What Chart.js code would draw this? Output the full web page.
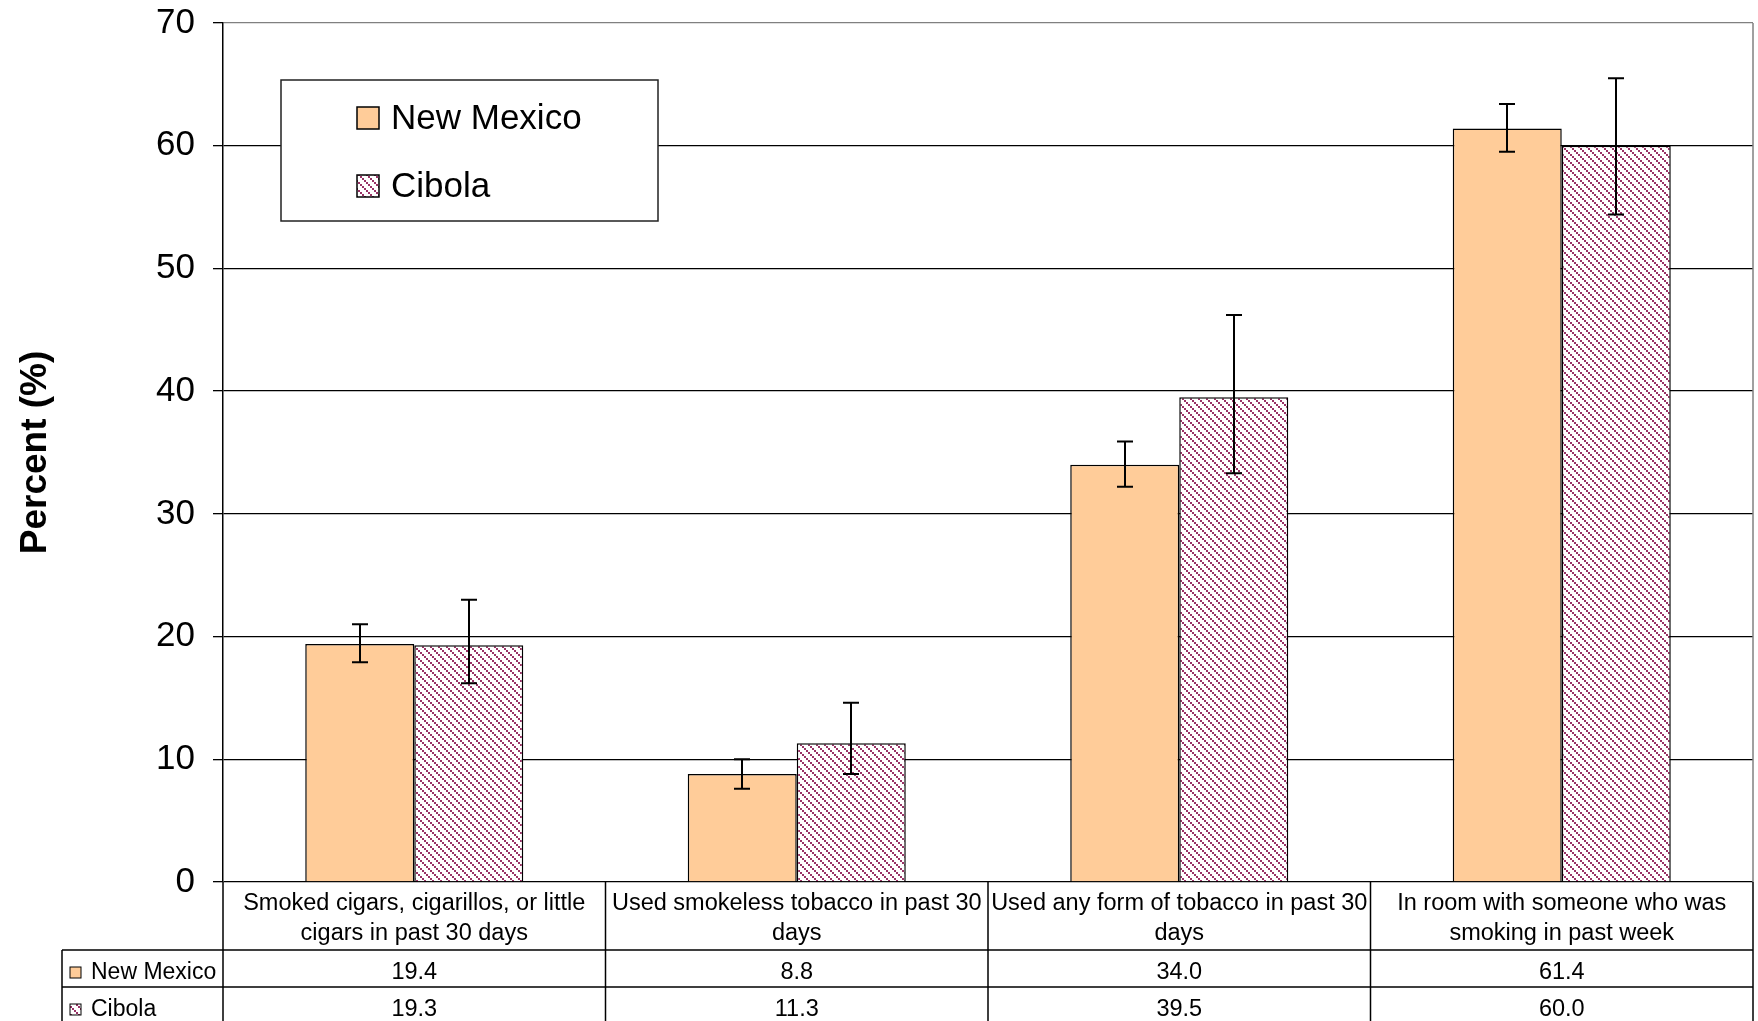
<!DOCTYPE html>
<html><head><meta charset="utf-8">
<script src="https://cdn.jsdelivr.net/npm/chart.js@4.4.0/dist/chart.umd.min.js"></script>
<style>html,body{margin:0;padding:0;background:#fff;} canvas{display:block;}</style>
</head><body>
<canvas id="c" width="1758" height="1021"></canvas>
<script>
// ---- data ----
const categories = [
  ["Smoked cigars, cigarillos, or little", "cigars in past 30 days"],
  ["Used smokeless tobacco in past 30", "days"],
  ["Used any form of tobacco in past 30", "days"],
  ["In room with someone who was", "smoking in past week"]
];
const seriesNames = ["New Mexico", "Cibola"];
const newMexico = [19.4, 8.8, 34.0, 61.4];
const cibola = [19.3, 11.3, 39.5, 60.0];
const newMexicoLow = [17.9, 7.6, 32.2, 59.5];
const newMexicoHigh = [21.0, 10.0, 35.9, 63.4];
const cibolaLow = [16.2, 8.8, 33.3, 54.4];
const cibolaHigh = [23.0, 14.6, 46.2, 65.5];
const yMin = 0, yMax = 70, yStep = 10;

// ---- styles ----
const FONT = "'Liberation Sans', Arial, sans-serif";
const nmColor = '#FFCC99';
const cibColor = '#993366';

function makeHatch() {
  const s = 8;
  const c = document.createElement('canvas');
  c.width = s; c.height = s;
  const g = c.getContext('2d');
  g.fillStyle = '#ffffff'; g.fillRect(0, 0, s, s);
  g.fillStyle = cibColor;
  for (let y = 0; y < s; y += 2) {
    g.fillRect(y, y, 2, 2);
  }
  return document.getElementById('c').getContext('2d').createPattern(c, 'repeat');
}
const hatch = makeHatch();

function fmt(v) { return v.toFixed(1); }

const errorBarPlugin = {
  id: 'errorBars',
  afterDatasetsDraw(chart) {
    const ctx = chart.ctx, y = chart.scales.y;
    const sets = [[newMexicoLow, newMexicoHigh], [cibolaLow, cibolaHigh]];
    ctx.save();
    ctx.strokeStyle = '#000'; ctx.lineWidth = 2;
    sets.forEach((s, di) => {
      const meta = chart.getDatasetMeta(di);
      meta.data.forEach((bar, i) => {
        const x = Math.round(bar.x);
        const yl = y.getPixelForValue(s[0][i]);
        const yh = y.getPixelForValue(s[1][i]);
        ctx.beginPath();
        ctx.moveTo(x, yl); ctx.lineTo(x, yh);
        ctx.moveTo(x - 8, yl); ctx.lineTo(x + 8, yl);
        ctx.moveTo(x - 8, yh); ctx.lineTo(x + 8, yh);
        ctx.stroke();
      });
    });
    ctx.restore();
  }
};

const decorPlugin = {
  id: 'decor',
  afterDraw(chart) {
    const ctx = chart.ctx, a = chart.chartArea, x = chart.scales.x;
    const fills = [nmColor, hatch];
    ctx.save();
    // right plot border (gray)
    ctx.strokeStyle = '#808080'; ctx.lineWidth = 1.5;
    ctx.beginPath(); ctx.moveTo(a.right, a.top); ctx.lineTo(a.right, a.bottom); ctx.stroke();

    // legend box inside plot
    const lx = 281, ly = 80, lw = 377, lh = 141;
    ctx.fillStyle = '#fff'; ctx.fillRect(lx, ly, lw, lh);
    ctx.strokeStyle = '#222'; ctx.lineWidth = 1.5; ctx.strokeRect(lx, ly, lw, lh);
    ctx.font = '35px ' + FONT; ctx.textBaseline = 'middle'; ctx.textAlign = 'left';
    const rowsY = [118, 186];
    seriesNames.forEach((n, i) => {
      ctx.fillStyle = fills[i]; ctx.fillRect(357, rowsY[i] - 11, 22, 22);
      ctx.strokeStyle = '#000'; ctx.lineWidth = 1.5; ctx.strokeRect(357, rowsY[i] - 11, 22, 22);
      ctx.fillStyle = '#000'; ctx.fillText(n, 391, rowsY[i] + 1);
    });

    // data table below the axis
    const n = categories.length;
    const catW = (a.right - a.left) / n;
    const headBottom = a.bottom + 68;
    const row1Bottom = headBottom + 37;
    const tableLeft = 62;
    const bottom = chart.height;
    ctx.strokeStyle = '#000'; ctx.lineWidth = 1.5;
    ctx.beginPath();
    ctx.moveTo(tableLeft, headBottom); ctx.lineTo(a.right, headBottom);
    ctx.moveTo(tableLeft, row1Bottom); ctx.lineTo(a.right, row1Bottom);
    ctx.moveTo(tableLeft, headBottom); ctx.lineTo(tableLeft, bottom);
    for (let i = 0; i <= n; i++) {
      const xx = a.left + i * catW;
      ctx.moveTo(xx, a.bottom); ctx.lineTo(xx, bottom);
    }
    ctx.stroke();
    ctx.textBaseline = 'middle';
    const rowC = [headBottom + 23, row1Bottom + 23];
    const vals = [newMexico, cibola];
    seriesNames.forEach((nm, r) => {
      ctx.fillStyle = fills[r]; ctx.fillRect(70, rowC[r] - 6, 11, 11);
      ctx.strokeStyle = '#000'; ctx.lineWidth = 1; ctx.strokeRect(70, rowC[r] - 6, 11, 11);
      ctx.fillStyle = '#000'; ctx.textAlign = 'left';
      ctx.font = '23px ' + FONT;
      ctx.fillText(nm, 91, rowC[r]);
      ctx.textAlign = 'center';
      ctx.font = '23.5px ' + FONT;
      vals[r].forEach((v, i) => ctx.fillText(fmt(v), x.getPixelForValue(i), rowC[r]));
    });
    ctx.restore();
  }
};

new Chart(document.getElementById('c'), {
  type: 'bar',
  data: {
    labels: categories,
    datasets: [
      { label: seriesNames[0], data: newMexico, backgroundColor: nmColor, borderColor: '#000', borderWidth: 1.5 },
      { label: seriesNames[1], data: cibola, backgroundColor: hatch, borderColor: '#000', borderWidth: 1.5 }
    ]
  },
  options: {
    responsive: false,
    animation: false,
    devicePixelRatio: 1,
    layout: { padding: { top: 23, right: 5, left: 0, bottom: 0 } },
    plugins: { legend: { display: false }, tooltip: { enabled: false } },
    datasets: { bar: { categoryPercentage: 0.57, barPercentage: 1.0 } },
    scales: {
      x: {
        grid: { display: false, drawTicks: false },
        border: { display: false },
        ticks: { color: '#000', font: { family: FONT, size: 23.5, lineHeight: 1.25 }, padding: 7, maxRotation: 0, autoSkip: false },
        afterFit: s => { s.height = 139; s.paddingLeft = 0; s.paddingRight = 0; }
      },
      y: {
        min: yMin, max: yMax,
        ticks: { stepSize: yStep, color: '#000', font: { family: FONT, size: 35 }, padding: 18 },
        grid: {
          color: c => (c.tick && c.tick.value === yMax) ? '#808080' : '#000',
          lineWidth: 1.3, tickLength: 10, tickColor: '#000'
        },
        border: { display: true, color: '#000', width: 1.5 },
        title: { display: true, text: 'Percent (%)', color: '#000', font: { family: FONT, size: 37, weight: 'bold' }, padding: { top: 14, bottom: 0 } },
        afterFit: s => { s.width = 223; s.paddingTop = 0; s.paddingBottom = 0; }
      }
    }
  },
  plugins: [errorBarPlugin, decorPlugin]
});
</script>
</body></html>
